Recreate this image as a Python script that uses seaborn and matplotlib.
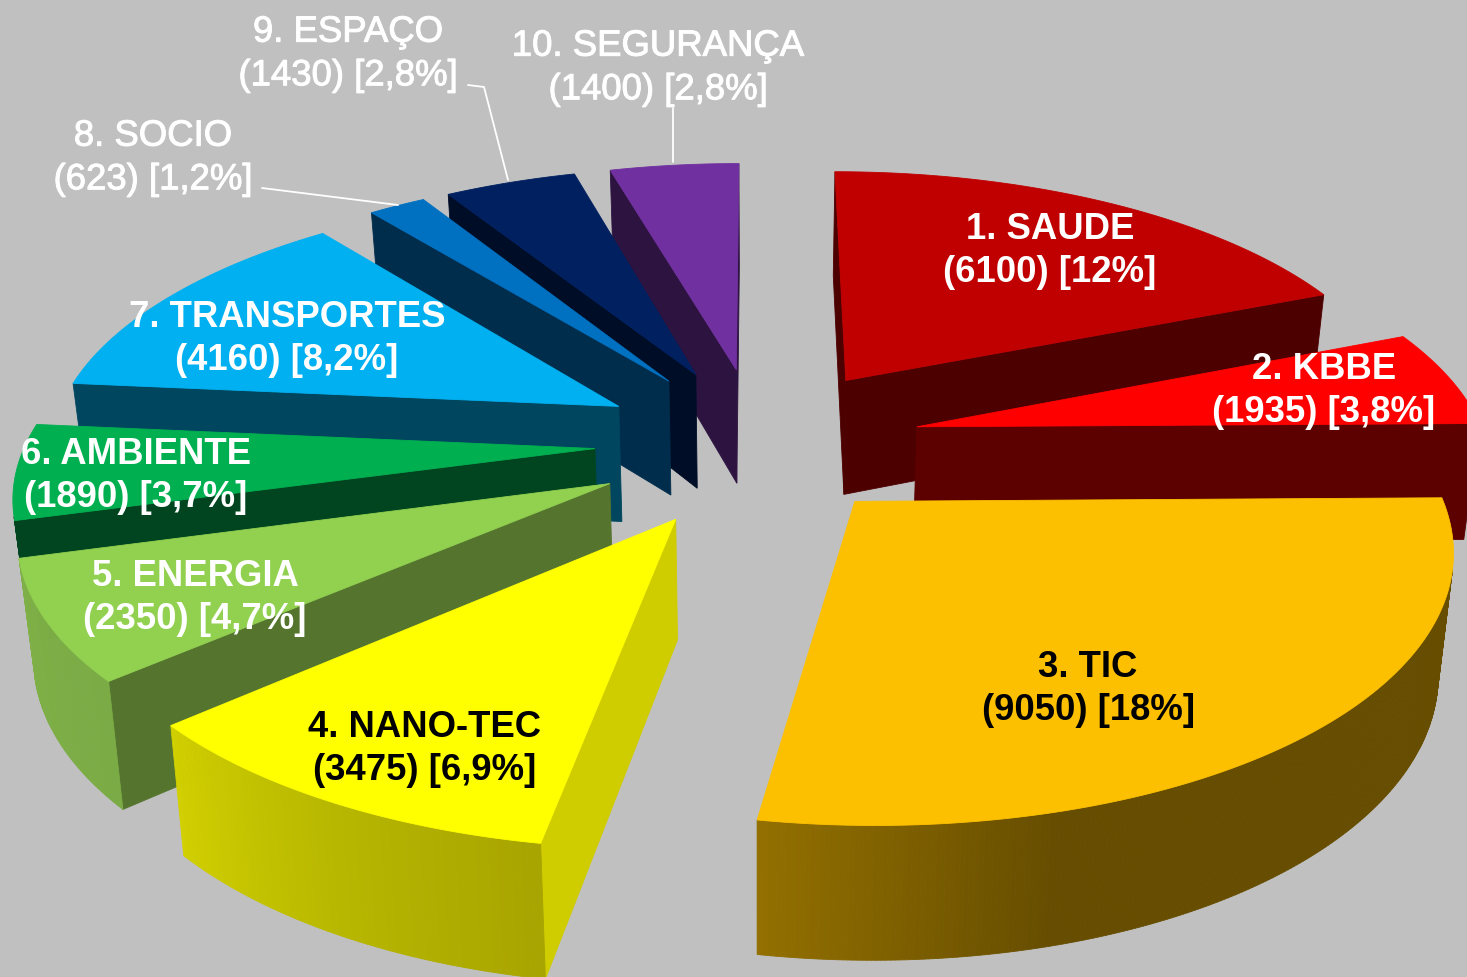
"""
Exploded 3D pie: FP7 budget per theme (values in M EUR, share of total)
"""

import numpy as np
import matplotlib
matplotlib.use("Agg")
import matplotlib.pyplot as plt
import matplotlib.patheffects as pe
import seaborn as sns

# Data
themes = ["1. SAUDE", "2. KBBE", "3. TIC", "4. NANO-TEC", "5. ENERGIA",
          "6. AMBIENTE", "7. TRANSPORTES", "8. SOCIO", "9. ESPAÇO", "10. SEGURANÇA"]
budget = [6100, 1935, 9050, 3475, 2350, 1890, 4160, 623, 1430, 1400]
shares = ["12%", "3,8%", "18%", "6,9%", "4,7%", "3,7%", "8,2%", "1,2%", "2,8%", "2,8%"]

# Colours
top_colors = ["#c00000", "#ff0000", "#fdc000", "#ffff00", "#92d050",
              "#00b050", "#00b0f0", "#0070c0", "#002060", "#7030a0"]
face_colors = ["#4d0000", "#5c0000", "#604800", "#cfcc00", "#55752f",
               "#00451f", "#00465f", "#002d4c", "#000d26", "#2d1340"]
rim_colors = [["#4d0000", "#4d0000"], ["#5c0000", "#5c0000"],
              ["#664d00", "#664d00", "#664d00", "#664d00", "#937000"],
              ["#a8a400", "#b8b800", "#d2d000"], ["#7aab44", "#7fb048"],
              ["#00451f", "#00451f"], ["#00465f", "#00465f"], ["#002d4c", "#002d4c"],
              ["#000d26", "#000d26"], ["#2d1340", "#2d1340"]]
text_colors = ["white", "white", "black", "black", "white",
               "white", "white", "white", "white", "white"]
label_bold = [True] * 7 + [False] * 3

# Layout of the projection
CX, CY = 759, 441
AX, BY = 569, 256
PERSP = 0.15
explode = [0.28, 0.28, 0.29, 0.31, 0.30, 0.29, 0.28, 0.28, 0.28, 0.28]
nudge = [(1, -3), (3, 0), (-15, 2), (6, 6), (4, 5), (1, 1), (-3, -1), (-2, -3), (-2, -3), (-2, -3)]
draw_order = [9, 8, 7, 6, 5, 4, 3, 0, 1, 2]

label_xy = [(1050, 251), (1324, 391), (1088, 689), (425, 749), (195, 598),
            (136, 476), (287, 339), (153, 158), (348, 54), (658, 68)]
leaders = [([262, 398], [188, 205]),
           ([468, 484, 508], [85, 87, 180]),
           ([673, 673], [108, 162])]


def project(u, v):
    """Plane coords of the pie (v points away) -> pixel coords of the top face"""
    d = 1 + PERSP * v
    return CX + AX * u / d, CY - BY * v / d


def drop(x, y):
    """Top face pixel -> pixel of the same point on the bottom face"""
    return CX + (x - CX) * 0.978, y + 96 + 0.047 * y


def draw_quad(ax, a, b, color, z):
    x0, y0 = drop(*a)
    x1, y1 = drop(*b)
    # only the faces turned towards the viewer
    if (b[0] - a[0]) * (y0 - a[1]) - (b[1] - a[1]) * (x0 - a[0]) >= 0:
        return
    ax.fill([a[0], b[0], x1, x0], [a[1], b[1], y1, y0], color=color, lw=0.6, zorder=z)


sns.set_style("white")
plt.rcParams['font.family'] = ['Liberation Sans', 'DejaVu Sans']

bg = "#c0c0c0"
fig = plt.figure(figsize=(14.67, 9.77), dpi=100, facecolor=bg)
ax = fig.add_axes([0, 0, 1, 1], facecolor=bg)

edges = np.concatenate([[0], np.cumsum(budget)]) / np.sum(budget) * 2 * np.pi

z = 1
for i in draw_order:
    t1, t2 = edges[i], edges[i + 1]
    mid = (t1 + t2) / 2
    ou, ov = explode[i] * np.sin(mid), explode[i] * np.cos(mid)
    angles = np.linspace(t1, t2, max(int(np.degrees(t2 - t1) / 0.4), 4))
    px, py = project(ou + np.sin(angles), ov + np.cos(angles))
    apex = project(ou, ov)
    px, py = px + nudge[i][0], py + nudge[i][1]
    apex = (apex[0] + nudge[i][0], apex[1] + nudge[i][1])

    rim = sns.blend_palette(rim_colors[i], len(angles))
    draw_quad(ax, apex, (px[0], py[0]), face_colors[i], z)
    draw_quad(ax, (px[-1], py[-1]), apex, face_colors[i], z)
    for k in range(len(angles) - 1):
        draw_quad(ax, (px[k], py[k]), (px[k + 1], py[k + 1]), rim[k], z)
    ax.fill(np.r_[apex[0], px], np.r_[apex[1], py], color=top_colors[i], lw=0.6, zorder=z + 1)
    z += 2

for lx, ly in leaders:
    ax.plot(lx, ly, color="white", lw=1.3, zorder=z)

for i, (x, y) in enumerate(label_xy):
    t = ax.text(x, y, f"{themes[i]}\n({budget[i]}) [{shares[i]}]", ha="center", va="center",
                color=text_colors[i], fontsize=26.3, linespacing=1.32,
                fontweight="bold" if label_bold[i] else "normal", zorder=z + 1)
    if not label_bold[i]:
        t.set_path_effects([pe.withStroke(linewidth=0.7, foreground="white")])

ax.set_xlim(0, 1467)
ax.set_ylim(977, 0)
ax.axis("off")
fig.savefig("out.png", dpi=100, facecolor=bg)
